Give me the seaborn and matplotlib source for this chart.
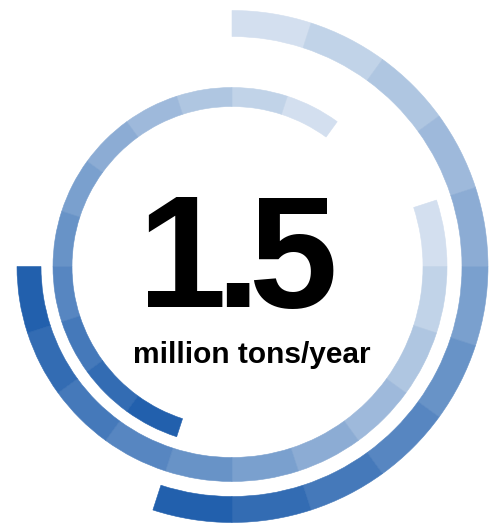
import numpy as np
import pandas as pd
import seaborn as sns
import matplotlib.pyplot as plt

# segment shades (opacity of the base blue), same order on each ring
segment_shade = [0.20, 0.28, 0.36, 0.44, 0.52, 0.60, 0.68, 0.76, 0.84, 0.92, 1.00]
# each ring: where it starts (degrees, clockwise from top) and which way it runs
ring_name = ['outer', 'inner', 'middle']
ring_start = [0, 36, 72]
ring_turn = [1, -1, 1]
seg_deg = 18

big_value = "1.5"
unit_label = "million tons/year"

# ring radii in pixels from the centre
ring_in = {'outer': 230, 'inner': 160, 'middle': 191}
ring_out = {'outer': 256, 'inner': 179, 'middle': 215}

rows = []
for name, start, turn in zip(ring_name, ring_start, ring_turn):
    for i, s in enumerate(segment_shade):
        mid = start + turn * (i * seg_deg + seg_deg / 2)
        rows.append([name, i, mid, s])
df = pd.DataFrame(rows, columns=['ring', 'seg', 'theta', 'shade'])

sns.set_style("white")
plt.rcParams['font.family'] = ['Liberation Sans', 'DejaVu Sans']

pal = sns.blend_palette(["#ffffff", "#2260ad"], 101)

W, H = 499, 525
fig = plt.figure(figsize=(W / 100, H / 100), dpi=100)
cx, cy, R = 232, 266.5, 260
ax = fig.add_axes([(cx - R) / W, (H - cy - R) / H, 2 * R / W, 2 * R / H], projection='polar')
ax.set_theta_zero_location('N')
ax.set_theta_direction(-1)

for _, r in df.iterrows():
    c = pal[int(round(r['shade'] * 100))]
    ax.bar(np.deg2rad(r['theta']), ring_out[r['ring']] - ring_in[r['ring']],
           width=np.deg2rad(seg_deg), bottom=ring_in[r['ring']],
           color=c, edgecolor=c, linewidth=0.4, align='center')

ax.set_ylim(0, R)
ax.axis('off')

# big number, glyphs placed one by one (tight tracking as in the original)
glyph_x = [138, 215, 248]
for ch, x in zip(big_value, glyph_x):
    fig.text(x / W, (H - 307) / H, ch, ha='left', va='baseline',
             fontsize=115, fontweight='bold', color='black')

fig.text(252 / W, (H - 363) / H, unit_label, ha='center', va='baseline',
         fontsize=21.5, fontweight='bold', color='black')

fig.savefig("out.png", dpi=100)
